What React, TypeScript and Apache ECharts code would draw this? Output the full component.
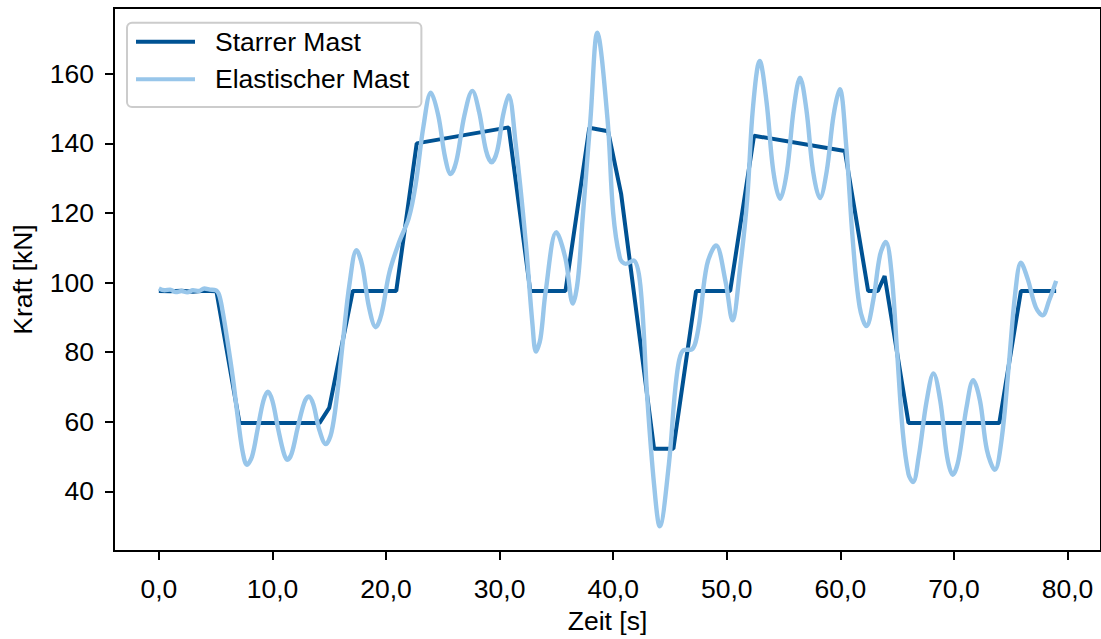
import React, { useEffect, useRef } from "react";
import * as echarts from "echarts";

const xTicks = [0, 10, 20, 30, 40, 50, 60, 70, 80];
const yTicks = [40, 60, 80, 100, 120, 140, 160];

const starrerMast: [number, number][] = [
  [0, 97.6], [1, 97.5], [2, 97.7], [3, 97.4], [4, 97.7], [5.07, 97.5],
  [7.1, 59.7], [14.15, 59.7], [15.0, 64], [17.07, 97.6], [20.9, 97.6],
  [22.7, 140], [30.8, 144.6], [32.7, 97.6], [35.8, 97.6], [37.9, 144.5],
  [39.55, 143.5], [40.7, 125.5], [43.6, 52.3], [45.3, 52.3], [47.3, 97.6],
  [50.3, 97.6], [52.4, 142.2], [60.4, 137.8], [62.45, 97.6], [63.3, 97.6],
  [63.9, 101.9], [66.0, 59.7], [74.0, 59.7], [75.9, 97.6], [79, 97.6],
];

const elastischerMast: [number, number][] = [
  [0, 98.3], [0.5, 97.8], [1, 98], [1.5, 97.3], [2, 97.6], [2.5, 97.2], [3, 97.8],
  [3.5, 97.6], [4, 98.3], [4.5, 98], [5, 97.8], [5.3, 96.5], [5.6, 92], [6, 84],
  [6.5, 73], [7, 60], [7.4, 51], [7.75, 47.7], [8.2, 50], [8.7, 58], [9.2, 66],
  [9.6, 68.7], [10, 66], [10.5, 58], [11, 51], [11.3, 49.1], [11.7, 51], [12.2, 58],
  [12.8, 65.5], [13.2, 67.3], [13.6, 65], [14.1, 58], [14.7, 53.6], [15.2, 57],
  [15.7, 68], [16.2, 83], [16.8, 100], [17.4, 109.3], [17.9, 105], [18.5, 93],
  [19.1, 87.2], [19.6, 91], [20.3, 103], [21.2, 112], [22, 118.5], [22.6, 128],
  [23.3, 145], [23.95, 154.6], [24.6, 148], [25.2, 136], [25.7, 131.2], [26.2, 135],
  [26.9, 148], [27.6, 155.1], [28.2, 149], [28.8, 138], [29.3, 134.6], [29.8, 138],
  [30.3, 148], [30.8, 153.8], [31.4, 140.3], [32.3, 111.7], [32.9, 87.8],
  [33.2, 80.2], [33.6, 84], [34.05, 97.3], [35.0, 114.5], [35.8, 106.9],
  [36.45, 94], [36.9, 101], [37.3, 118], [38.0, 147], [38.6, 171.8], [39.5, 147],
  [40.0, 120], [40.6, 107], [41.1, 105.4], [41.8, 106.4], [42.4, 99], [43.0, 67],
  [43.6, 42], [44.1, 30], [44.9, 47.7], [45.6, 73.4], [46.2, 80.6], [46.9, 80.8],
  [47.5, 86.8], [48.25, 105], [49.05, 110.7], [49.9, 100.2], [50.5, 89.2],
  [51.2, 105], [51.8, 124], [52.3, 150], [52.9, 163.7], [53.5, 152], [54.1, 132],
  [54.7, 124.1], [55.3, 132], [55.9, 150], [56.45, 158.9], [57.0, 150], [57.6, 132],
  [58.2, 124.3], [58.8, 132], [59.4, 148], [59.95, 155.6], [60.5, 140], [61.1, 112],
  [61.7, 93], [62.3, 87.5], [62.9, 95], [63.5, 108], [64.0, 111.7], [64.5, 103],
  [65.0, 80], [65.5, 57], [66.0, 45], [66.4, 42.7], [66.9, 50], [67.6, 66],
  [68.2, 73.9], [68.8, 66], [69.4, 50], [69.9, 44.8], [70.4, 49], [71.1, 64],
  [71.7, 72], [72.3, 66], [72.9, 52], [73.6, 46.2], [74.2, 55], [74.8, 75],
  [75.4, 97], [75.9, 105.7], [76.5, 101], [77.2, 93], [77.8, 90.6], [78.4, 95],
  [79, 100.5],
];

const FONT = "'Liberation Sans', Arial, sans-serif";
const FS = 26.5;

export default function App() {
  const ref = useRef<HTMLDivElement>(null);
  useEffect(() => {
    if (!ref.current) return;
    const chart = echarts.init(ref.current, undefined, { renderer: "svg" });
    chart.setOption({
      animation: false,
      backgroundColor: "#ffffff",
      textStyle: { fontFamily: FONT },
      grid: {
        left: 114,
        top: 8,
        width: 989.3,
        height: 545,
        show: true,
        borderColor: "#000000",
        borderWidth: 2,
        backgroundColor: "transparent",
      },
      legend: {
        left: 127,
        top: 22.7,
        orient: "vertical",
        backgroundColor: "rgba(255,255,255,0.8)",
        borderColor: "#cccccc",
        borderWidth: 2,
        borderRadius: 5,
        padding: [5.6, 12, 14.3, 9],
        itemGap: 10.4,
        itemWidth: 59,
        itemHeight: 4,
        icon: "rect",
        textStyle: {
          fontFamily: FONT,
          fontSize: FS,
          color: "#000000",
          lineHeight: 24,
          padding: [0, 0, 0, 15],
        },
        data: ["Starrer Mast", "Elastischer Mast"],
      },
      xAxis: {
        type: "value",
        min: -3.95,
        max: 82.95,
        name: "Zeit [s]",
        nameLocation: "middle",
        nameGap: 56,
        nameTextStyle: { fontFamily: FONT, fontSize: FS, color: "#000" },
        splitLine: { show: false },
        axisLine: { show: true, onZero: false, lineStyle: { color: "#000", width: 2 } },
        axisTick: { show: true, length: 9, lineStyle: { color: "#000", width: 2 }, customValues: xTicks },
        axisLabel: {
          customValues: xTicks,
          margin: 24,
          fontFamily: FONT,
          fontSize: FS,
          color: "#000",
          formatter: (v: number) => v.toFixed(1).replace(".", ","),
        },
      },
      yAxis: {
        type: "value",
        min: 22.9,
        max: 178.9,
        name: "Kraft [kN]",
        nameLocation: "middle",
        nameGap: 78,
        nameTextStyle: { fontFamily: FONT, fontSize: FS, color: "#000" },
        splitLine: { show: false },
        axisLine: { show: true, onZero: false, lineStyle: { color: "#000", width: 2 } },
        axisTick: { show: true, length: 9, lineStyle: { color: "#000", width: 2 }, customValues: yTicks },
        axisLabel: {
          customValues: yTicks,
          margin: 20,
          fontFamily: FONT,
          fontSize: FS,
          color: "#000",
        },
      },
      series: [
        {
          name: "Starrer Mast",
          type: "line",
          data: starrerMast,
          showSymbol: false,
          color: "#005293",
          lineStyle: { width: 4, color: "#005293" },
          z: 2,
        },
        {
          name: "Elastischer Mast",
          type: "line",
          data: elastischerMast,
          showSymbol: false,
          smooth: 0.35,
          color: "#98C6EA",
          lineStyle: { width: 4.4, color: "#98C6EA" },
          z: 3,
        },
      ],
    });
    return () => chart.dispose();
  }, []);
  return (
    <div
      ref={ref}
      style={{ position: "fixed", left: 0, top: 0, width: 1101, height: 639 }}
    />
  );
}
